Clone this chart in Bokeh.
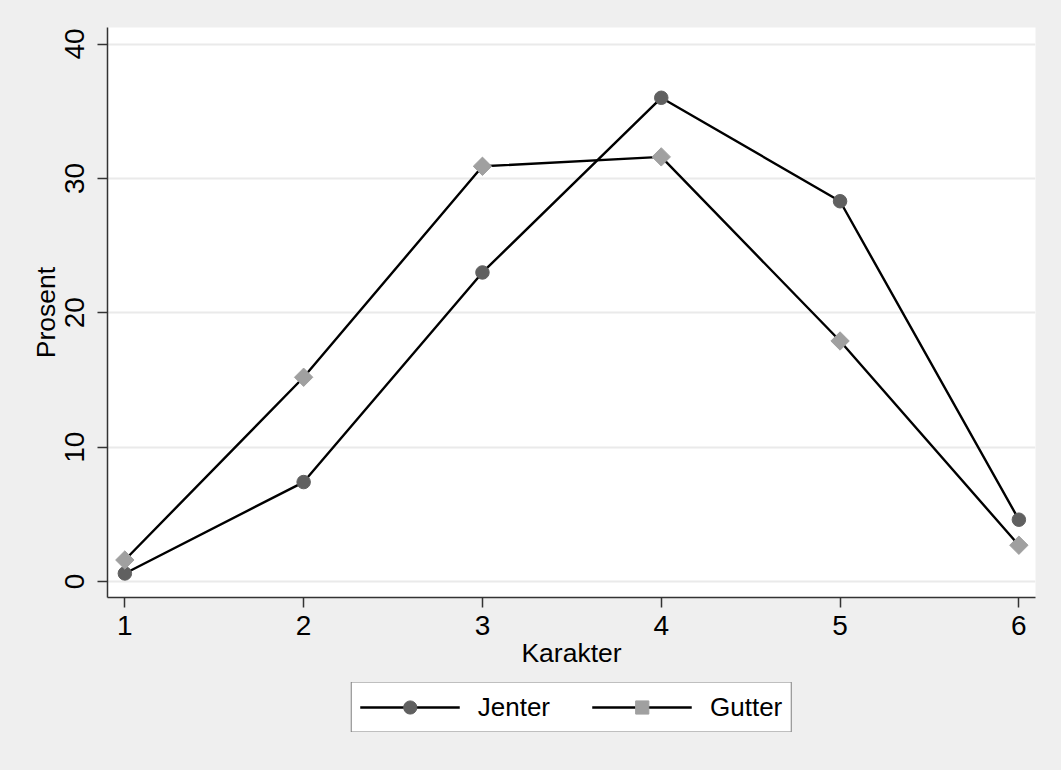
import math
from bokeh.plotting import figure
from bokeh.layouts import column
from bokeh.models import Range1d, FixedTicker, Legend, LegendItem, ColumnDataSource
from bokeh.embed import file_html
from bokeh.resources import INLINE

# ---- data ----
karakter = [1, 2, 3, 4, 5, 6]
jenter = [0.6, 7.4, 23.0, 36.0, 28.3, 4.6]
gutter = [1.6, 15.2, 30.9, 31.6, 17.9, 2.7]
y_ticks = [0, 10, 20, 30, 40]
x_ticks = [1, 2, 3, 4, 5, 6]
series_labels = ["Jenter", "Gutter"]
x_title = "Karakter"
y_title = "Prosent"

FONT = "Liberation Sans"
TICK_FS = "28px"
TITLE_FS = "26.5px"
LEG_FS = "26px"
BG = "#efefef"
LW = 2.4

JSTYLE = dict(marker="circle", size=13.5, fill_color="#606060", line_color="#606060")
GSTYLE = dict(marker="square", size=13, angle=math.pi / 4, fill_color="#a0a0a0", line_color="#a0a0a0")

# ---------------- main chart ----------------
p = figure(
    frame_width=928, frame_height=570,
    x_range=Range1d(0.903, 6.093), y_range=Range1d(-1.19, 41.23),
    output_backend="svg", toolbar_location=None,
    min_border_left=107, min_border_right=10, min_border_top=27, min_border_bottom=80,
)
p.background_fill_color = "white"
p.border_fill_color = BG
p.outline_line_color = None

src = ColumnDataSource(dict(x=karakter, j=jenter, g=gutter))

p.line("x", "j", source=src, line_color="black", line_width=LW)
p.scatter("x", "j", source=src, **JSTYLE)
p.line("x", "g", source=src, line_color="black", line_width=LW)
p.scatter("x", "g", source=src, **GSTYLE)

for ax in (p.xaxis[0], p.yaxis[0]):
    ax.axis_line_color = "#333333"
    ax.axis_line_width = 1.5
    ax.major_tick_line_color = "#333333"
    ax.major_tick_line_width = 1.5
    ax.major_tick_out = 10
    ax.major_tick_in = 0
    ax.minor_tick_line_color = None
    ax.major_label_text_font = FONT
    ax.major_label_text_font_size = TICK_FS
    ax.major_label_text_color = "black"
    ax.axis_label_text_font = FONT
    ax.axis_label_text_font_size = TITLE_FS
    ax.axis_label_text_font_style = "normal"
    ax.axis_label_text_color = "black"

p.xaxis.ticker = FixedTicker(ticks=x_ticks)
p.yaxis.ticker = FixedTicker(ticks=y_ticks)
p.xaxis.axis_label = x_title
p.yaxis.axis_label = y_title
p.yaxis.major_label_orientation = "vertical"
p.xaxis.major_label_standoff = 8
p.yaxis.major_label_standoff = 13
p.xaxis.axis_label_standoff = 0
p.yaxis.axis_label_standoff = 2

p.xgrid.grid_line_color = None
p.ygrid.grid_line_color = "#eaeaea"
p.ygrid.grid_line_width = 2

# ---------------- legend strip ----------------
q = figure(
    frame_width=928, frame_height=50,
    x_range=Range1d(100, 101), y_range=Range1d(100, 101),
    output_backend="svg", toolbar_location=None,
    x_axis_location=None, y_axis_location=None,
    min_border_left=107, min_border_right=10, min_border_top=5, min_border_bottom=22,
)
q.background_fill_alpha = 0
q.border_fill_color = BG
q.outline_line_color = None
q.grid.visible = False

qj_l = q.line("x", "j", source=src, line_color="black", line_width=LW)
qj_s = q.scatter("x", "j", source=src, **JSTYLE)
qg_l = q.line("x", "g", source=src, line_color="black", line_width=LW)
qg_s = q.scatter("x", "g", source=src, **GSTYLE)

legend = Legend(
    items=[LegendItem(label=series_labels[0], renderers=[qj_l, qj_s]),
           LegendItem(label=series_labels[1], renderers=[qg_l, qg_s])],
    orientation="horizontal", location="center",
)
legend.glyph_width = 100
legend.glyph_height = 33
legend.label_standoff = 18
legend.spacing = 42
legend.padding = 8
legend.margin = 0
legend.border_line_color = "black"
legend.border_line_width = 1.5
legend.background_fill_color = "white"
legend.background_fill_alpha = 1
legend.label_text_font = FONT
legend.label_text_font_size = LEG_FS
legend.label_text_color = "black"
q.add_layout(legend, "center")

layout = column(p, q, spacing=0)
html = file_html(layout, INLINE)
html = html.replace("<head>", "<head><style>html, body { background: #efefef; }</style>", 1)
open("out.html", "w").write(html)
